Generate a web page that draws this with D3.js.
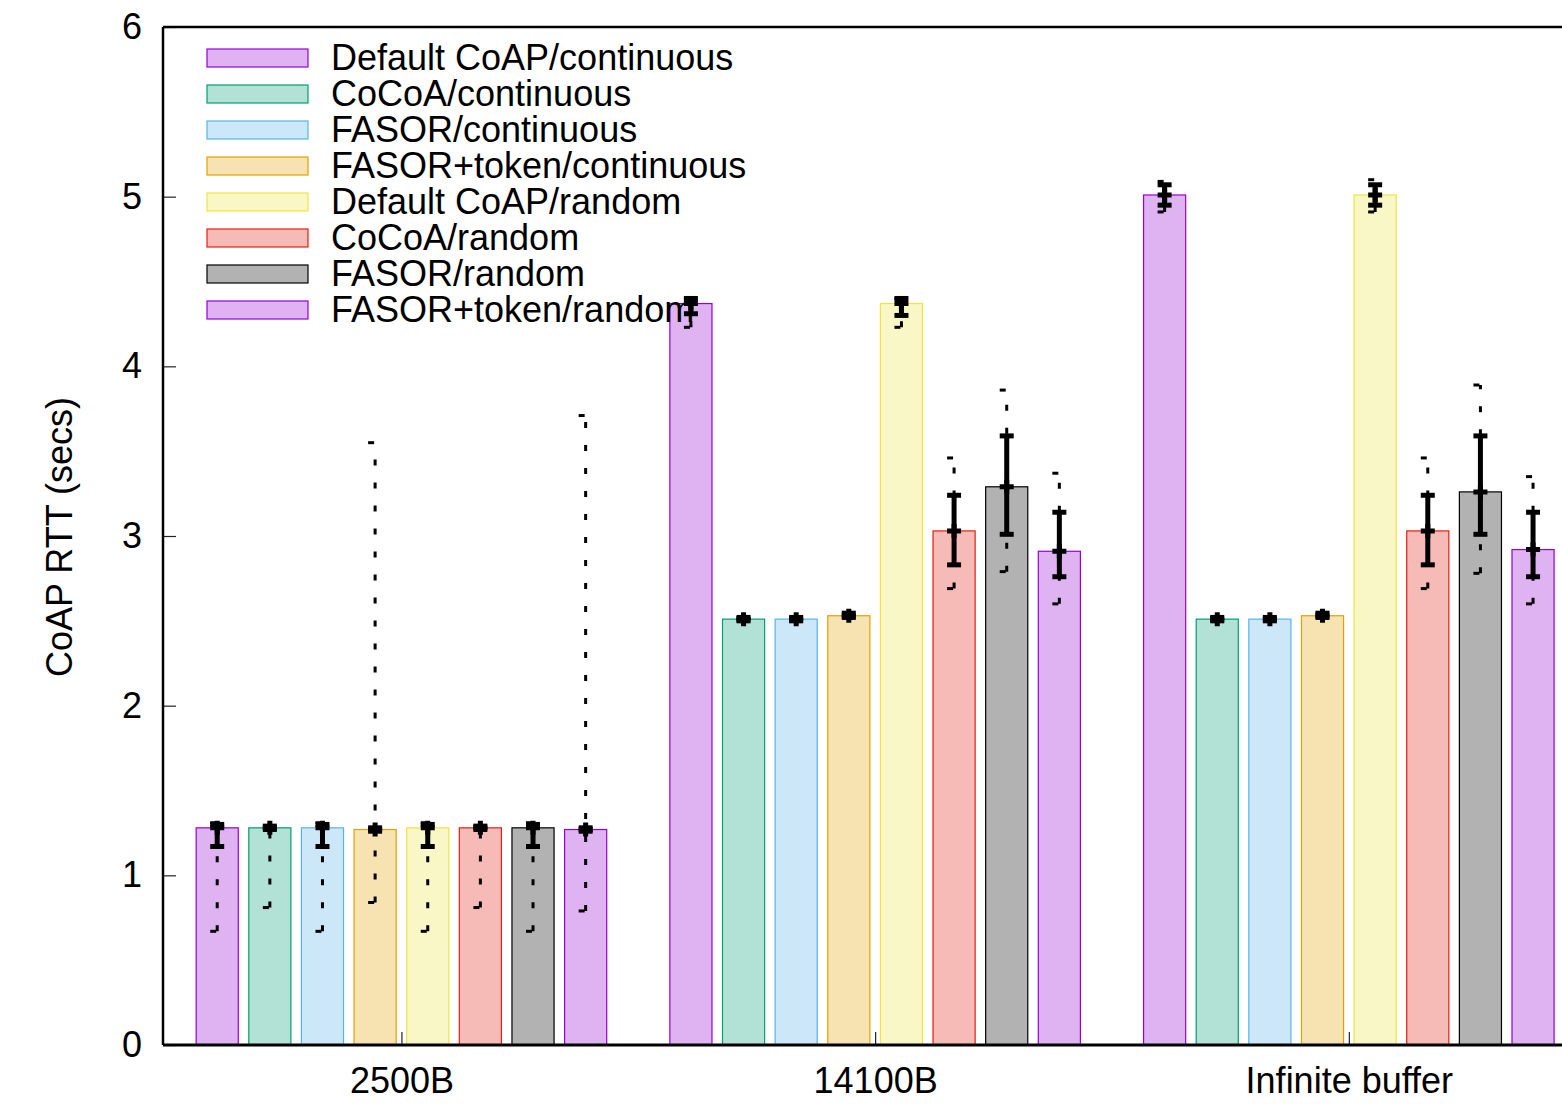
<!DOCTYPE html>
<html>
<head>
<meta charset="utf-8">
<script src="https://cdn.jsdelivr.net/npm/d3@7"></script>
<style>
  html, body { margin: 0; padding: 0; background: #fff; }
  svg { display: block; }
  text { font-family: "Liberation Sans", Arial, Helvetica, sans-serif; }
</style>
</head>
<body>
<svg id="chart" width="1562" height="1104"></svg>
<script>
// ---------------- data ----------------
const categories = ["2500B", "14100B", "Infinite buffer"];
const seriesNames = [
  "Default CoAP/continuous",
  "CoCoA/continuous",
  "FASOR/continuous",
  "FASOR+token/continuous",
  "Default CoAP/random",
  "CoCoA/random",
  "FASOR/random",
  "FASOR+token/random"
];
const seriesColors = ["#9400d3", "#009e73", "#56b4e9", "#e69f00", "#f0e442", "#e51e10", "#000000", "#9400d3"];

// mean RTT per series, per category
const meanValues = [
  [1.28, 4.37, 5.01],
  [1.28, 2.51, 2.51],
  [1.28, 2.51, 2.51],
  [1.27, 2.53, 2.53],
  [1.28, 4.37, 5.01],
  [1.28, 3.03, 3.03],
  [1.28, 3.29, 3.26],
  [1.27, 2.91, 2.92]
];
// thick error bar (lower / upper)
const lowValues = [
  [1.17, 4.31, 4.95],
  [1.27, 2.50, 2.50],
  [1.17, 2.50, 2.50],
  [1.26, 2.52, 2.52],
  [1.17, 4.30, 4.95],
  [1.27, 2.83, 2.83],
  [1.17, 3.01, 3.01],
  [1.26, 2.76, 2.76]
];
const highValues = [
  [1.30, 4.40, 5.07],
  [1.29, 2.52, 2.52],
  [1.30, 2.52, 2.52],
  [1.28, 2.545, 2.545],
  [1.30, 4.40, 5.07],
  [1.29, 3.24, 3.24],
  [1.30, 3.59, 3.59],
  [1.28, 3.14, 3.14]
];
// dotted range (min / max)
const minValues = [
  [0.67, 4.23, 4.91],
  [0.81, 2.50, 2.50],
  [0.67, 2.50, 2.50],
  [0.84, 2.52, 2.52],
  [0.67, 4.23, 4.91],
  [0.81, 2.69, 2.69],
  [0.67, 2.79, 2.78],
  [0.79, 2.60, 2.60]
];
const maxValues = [
  [1.31, 4.40, 5.09],
  [1.29, 2.52, 2.52],
  [1.31, 2.52, 2.52],
  [3.55, 2.545, 2.545],
  [1.31, 4.40, 5.10],
  [1.29, 3.46, 3.46],
  [1.31, 3.86, 3.89],
  [3.71, 3.37, 3.35]
];
const yTicks = [0, 1, 2, 3, 4, 5, 6];
const yLabel = "CoAP RTT (secs)";

// ---------------- layout ----------------
const svg = d3.select("#chart");
const mLeft = 163, mRight = 1562, mTop = 27, mBottom = 1045;
const nS = seriesNames.length;
const slot = nS + 1;

const x = d3.scaleLinear().domain([-1.03, 25.55]).range([mLeft, mRight]);
const y = d3.scaleLinear().domain([0, 6]).range([mBottom, mTop]);
const barW = x(0.8) - x(0);

const pos = (g, i) => g * slot + i;

// records
const recs = [];
for (let i = 0; i < nS; i++) {
  for (let g = 0; g < categories.length; g++) {
    recs.push({
      i, g, xc: x(pos(g, i)),
      mean: meanValues[i][g], lo: lowValues[i][g], hi: highValues[i][g],
      mn: minValues[i][g], mx: maxValues[i][g]
    });
  }
}

// bars
svg.append("g").selectAll("rect").data(recs).join("rect")
  .attr("x", d => d.xc - barW / 2)
  .attr("y", d => y(d.mean))
  .attr("width", barW)
  .attr("height", d => y(0) - y(d.mean))
  .attr("fill", d => seriesColors[d.i])
  .attr("fill-opacity", 0.3)
  .attr("stroke", d => seriesColors[d.i])
  .attr("stroke-width", 1.2);

// dotted min/max bars
const dot = svg.append("g").attr("stroke", "#000").attr("fill", "none")
  .attr("stroke-width", 3).attr("stroke-dasharray", "6,17");
recs.forEach(d => {
  dot.append("path").attr("d", `M${d.xc},${y(d.mn)}V${y(d.mx)}`);
  dot.append("path").attr("d", `M${d.xc - 7},${y(d.mn)}H${d.xc + 7}`);
  dot.append("path").attr("d", `M${d.xc - 7},${y(d.mx)}H${d.xc + 7}`);
});

// thick error bars
const thick = svg.append("g").attr("stroke", "#000").attr("fill", "none").attr("stroke-width", 5);
recs.forEach(d => {
  thick.append("path").attr("d", `M${d.xc},${y(d.lo)}V${y(d.hi)}`);
  thick.append("path").attr("d", `M${d.xc - 7},${y(d.lo)}H${d.xc + 7}`);
  thick.append("path").attr("d", `M${d.xc - 7},${y(d.hi)}H${d.xc + 7}`);
  // plus marker at mean
  thick.append("path").attr("d", `M${d.xc - 7},${y(d.mean)}H${d.xc + 7}M${d.xc},${y(d.mean) - 7}V${y(d.mean) + 7}`);
});

// axes
const yAxis = d3.axisLeft(y).tickValues(yTicks).tickSize(-13).tickPadding(21).tickFormat(d3.format("d"));
const gy = svg.append("g").attr("transform", `translate(${mLeft},0)`).call(yAxis);
gy.select(".domain").remove();
gy.selectAll(".tick line").attr("stroke", "#222").attr("stroke-width", 1.2);
gy.selectAll(".tick text").attr("font-size", 36).attr("fill", "#000")
  .attr("font-family", "'Liberation Sans', Arial, sans-serif");

const groupCenters = categories.map((c, g) => g * slot + (nS - 1) / 2);
const xAxis = d3.axisBottom(x).tickValues(groupCenters).tickSize(-13).tickPadding(22)
  .tickFormat((d, k) => categories[k]);
const gx = svg.append("g").attr("transform", `translate(0,${mBottom})`).call(xAxis);
gx.select(".domain").remove();
gx.selectAll(".tick line").attr("stroke", "#222").attr("stroke-width", 1.2);
gx.selectAll(".tick text").attr("font-size", 36).attr("fill", "#000")
  .attr("font-family", "'Liberation Sans', Arial, sans-serif");

// frame lines
svg.append("line").attr("x1", mLeft).attr("x2", mRight).attr("y1", mTop).attr("y2", mTop)
  .attr("stroke", "#000").attr("stroke-width", 2.5);
svg.append("line").attr("x1", mLeft).attr("x2", mLeft).attr("y1", mTop).attr("y2", mBottom)
  .attr("stroke", "#000").attr("stroke-width", 2.5);
svg.append("line").attr("x1", mLeft).attr("x2", mRight).attr("y1", mBottom).attr("y2", mBottom)
  .attr("stroke", "#000").attr("stroke-width", 3);

// y label
svg.append("text")
  .attr("transform", `translate(72,537) rotate(-90)`)
  .attr("text-anchor", "middle")
  .attr("font-size", 36)
  .text(yLabel);

// legend
const lg = svg.append("g");
seriesNames.forEach((name, i) => {
  const cy = 58 + i * 36;
  lg.append("rect").attr("x", 207).attr("y", cy - 9).attr("width", 101).attr("height", 18)
    .attr("fill", seriesColors[i]).attr("fill-opacity", 0.3)
    .attr("stroke", seriesColors[i]).attr("stroke-width", 1.2);
  lg.append("text").attr("x", 331).attr("y", cy + 12).attr("font-size", 36).text(name);
});
</script>
</body>
</html>
